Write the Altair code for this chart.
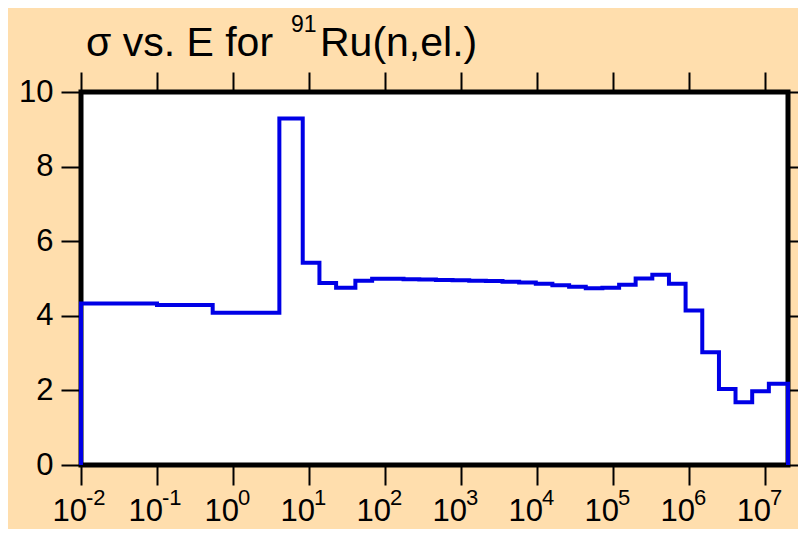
import altair as alt
import pandas as pd

# ---- data (group boundaries in eV, cross sections in barns)
edges = [0.01, 0.1, 0.54, 4.07, 8.26, 13.7, 22.7, 40.7, 67.6, 110, 175, 282, 467, 773,
         1280, 2120, 3510, 5810, 9620, 15900, 26400, 43700, 72300, 120000, 198000,
         328000, 543000, 899000, 1490000, 2470000, 4080000, 6760000, 11200000, 20000000]
sigma = [4.33, 4.29, 4.08, 9.29, 5.42, 4.88, 4.75, 4.94, 4.99, 4.99, 4.98, 4.97, 4.96,
         4.95, 4.94, 4.93, 4.91, 4.89, 4.86, 4.82, 4.78, 4.74, 4.75, 4.83, 5.00, 5.10,
         4.86, 4.14, 3.02, 2.04, 1.68, 1.98, 2.18]
decades = [-2, -1, 0, 1, 2, 3, 4, 5, 6, 7]
y_ticks = [0, 2, 4, 6, 8, 10]
title_main = "σ vs. E for"
title_sup = "91"
title_tail = "Ru(n,el.)"

# step outline: rise from zero at first edge, fall to zero at last edge
xs = [edges[0]] + edges[:-1] + [edges[-1]]
ys = [0.0] + sigma + [0.0]
df = pd.DataFrame({"E": xs, "sigma": ys, "i": list(range(len(xs)))})

tick_vals = [10.0 ** d for d in decades]
tick_df = pd.DataFrame({"v": tick_vals, "base": ["10"] * len(decades),
                        "exp": [str(d) for d in decades]})

FONT = "Liberation Sans"
xscale = alt.Scale(type="log", domain=[0.01, 2e7], nice=False)
yscale = alt.Scale(domain=[0, 10], nice=False, zero=False)
ax_common = dict(tickSize=20, tickWidth=2, tickColor="black", domain=False,
                 grid=False, title=None)

line = alt.Chart(df).mark_line(
    interpolate="step-after", color="#0000E6", strokeWidth=4,
    strokeJoin="miter", strokeCap="butt"
).encode(
    x=alt.X("E:Q", scale=xscale,
            axis=alt.Axis(orient="bottom", values=tick_vals, labels=False, **ax_common)),
    y=alt.Y("sigma:Q", scale=yscale,
            axis=alt.Axis(orient="left", values=y_ticks, labelFontSize=31, labelFont=FONT,
                          labelColor="black", labelPadding=8, **ax_common)),
    order="i:Q",
)

mirror = alt.Chart(df).mark_line(opacity=0).encode(
    x=alt.X("E:Q", scale=xscale,
            axis=alt.Axis(orient="top", values=tick_vals, labels=False, **ax_common)),
    y=alt.Y("sigma:Q", scale=yscale,
            axis=alt.Axis(orient="right", values=y_ticks, labels=False, **ax_common)),
    order="i:Q",
)

base_txt = alt.Chart(tick_df).mark_text(
    align="right", baseline="alphabetic", dx=6, fontSize=31, font=FONT, color="black"
).encode(x=alt.X("v:Q", scale=xscale, axis=None), y=alt.value(429), text="base:N")

exp_txt = alt.Chart(tick_df).mark_text(
    align="left", baseline="alphabetic", dx=5, fontSize=22, font=FONT, color="black"
).encode(x=alt.X("v:Q", scale=xscale, axis=None), y=alt.value(413), text="exp:N")

t1 = alt.Chart(alt.Data(values=[{"t": title_main}])).mark_text(
    align="left", baseline="alphabetic", fontSize=41, font=FONT, color="black"
).encode(x=alt.value(5), y=alt.value(-36), text="t:N")
t2 = alt.Chart(alt.Data(values=[{"t": title_sup}])).mark_text(
    align="left", baseline="alphabetic", fontSize=23, font=FONT, color="black"
).encode(x=alt.value(210), y=alt.value(-60), text="t:N")
t3 = alt.Chart(alt.Data(values=[{"t": title_tail}])).mark_text(
    align="left", baseline="alphabetic", fontSize=41, font=FONT, color="black"
).encode(x=alt.value(239), y=alt.value(-36), text="t:N")

chart = alt.layer(line, mirror, base_txt, exp_txt, t1, t2, t3).properties(
    width=707, height=373,
    padding={"left": 73, "top": 84, "right": 10, "bottom": 64},
    autosize=alt.AutoSizeParams(type="none"),
).configure(background="#FFDEAD").configure_view(
    fill="white", stroke="black", strokeWidth=5
)

chart.save("out.html", embed_options={"renderer": "svg", "actions": False})
